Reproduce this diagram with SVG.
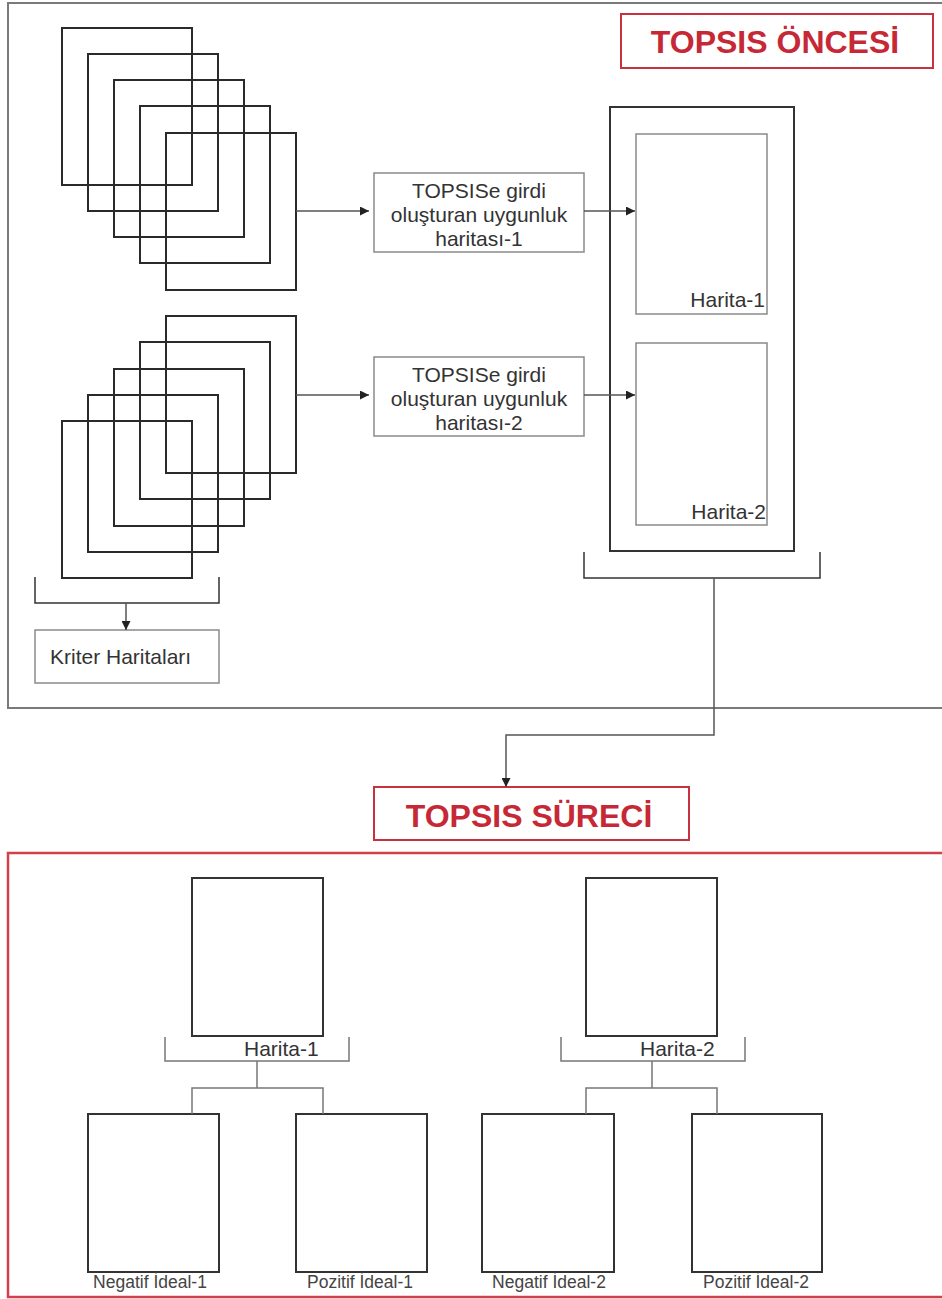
<svg xmlns="http://www.w3.org/2000/svg" width="942" height="1299" viewBox="0 0 942 1299">
<defs>
<marker id="ah" viewBox="0 0 10 10" refX="10" refY="5" markerWidth="9" markerHeight="9" markerUnits="userSpaceOnUse" orient="auto">
<path d="M0,0 L10,5 L0,10 z" fill="#222"/>
</marker>
<style>
.frame{fill:none;stroke:#7a7a7a;stroke-width:2}
.rframe{fill:none;stroke:#d2404e;stroke-width:2.5}
.sq{fill:none;stroke:#2a2a2a;stroke-width:2}
.box{fill:#fff;stroke:#8a8a8a;stroke-width:1.5}
.dbox{fill:#fff;stroke:#333;stroke-width:2}
.inner{fill:#fff;stroke:#8a8a8a;stroke-width:1.5}
.title{fill:#fff;stroke:#c8323e;stroke-width:2}
.ttxt{font-family:"Liberation Sans",Arial,sans-serif;font-weight:bold;font-size:32px;fill:#c62835;text-anchor:middle}
.txt{font-family:"Liberation Sans",Arial,sans-serif;font-size:21px;fill:#333}
.sm{font-family:"Liberation Sans",Arial,sans-serif;font-size:17.5px;fill:#444;text-anchor:middle}
.c{text-anchor:middle}
.ln{fill:none;stroke:#333;stroke-width:1.5}
.lnl{fill:none;stroke:#777;stroke-width:1.5}
.arr{fill:none;stroke:#555;stroke-width:1.5;marker-end:url(#ah)}
</style>
</defs>
<rect width="942" height="1299" fill="#fff"/>

<g id="frame-oncesi"><rect class="frame" x="8" y="3" width="945" height="705"/></g>
<g id="frame-sureci"><rect class="rframe" x="8" y="853" width="945" height="444"/></g>

<g id="title-oncesi">
<rect class="title" x="621" y="14" width="312" height="54"/>
<text class="ttxt" x="775" y="53">TOPSIS ÖNCESİ</text>
</g>

<g id="stack-1">
<rect class="sq" x="62" y="28" width="130" height="157"/>
<rect class="sq" x="88" y="54" width="130" height="157"/>
<rect class="sq" x="114" y="80" width="130" height="157"/>
<rect class="sq" x="140" y="106" width="130" height="157"/>
<rect class="sq" x="166" y="133" width="130" height="157"/>
</g>

<g id="stack-2">
<rect class="sq" x="166" y="316" width="130" height="157"/>
<rect class="sq" x="140" y="342" width="130" height="157"/>
<rect class="sq" x="114" y="369" width="130" height="157"/>
<rect class="sq" x="88" y="395" width="130" height="157"/>
<rect class="sq" x="62" y="421" width="130" height="157"/>
</g>

<g id="kriter">
<rect class="box" x="35" y="630" width="184" height="53"/>
<text class="txt" x="50" y="664">Kriter Haritaları</text>
</g>

<g id="uygunluk-1">
<rect class="box" x="374" y="173" width="210" height="79"/>
<text class="txt c" x="479" y="198">TOPSISe girdi</text>
<text class="txt c" x="479" y="222">oluşturan uygunluk</text>
<text class="txt c" x="479" y="246">haritası-1</text>
</g>

<g id="uygunluk-2">
<rect class="box" x="374" y="357" width="210" height="79"/>
<text class="txt c" x="479" y="382">TOPSISe girdi</text>
<text class="txt c" x="479" y="406">oluşturan uygunluk</text>
<text class="txt c" x="479" y="430">haritası-2</text>
</g>

<g id="harita-container">
<rect class="dbox" x="610" y="107" width="184" height="444"/>
<rect class="inner" x="636" y="134" width="131" height="180"/>
<text class="txt" x="765" y="307" text-anchor="end">Harita-1</text>
<rect class="inner" x="636" y="343" width="131" height="182"/>
<text class="txt" x="766" y="519" text-anchor="end">Harita-2</text>
</g>

<g id="title-sureci">
<rect class="title" x="374" y="787" width="315" height="53"/>
<text class="ttxt" x="529" y="827">TOPSIS SÜRECİ</text>
</g>

<g id="harita-1">
<rect class="dbox" x="192" y="878" width="131" height="158"/>
<text class="txt" x="244" y="1056">Harita-1</text>
</g>
<g id="harita-2">
<rect class="dbox" x="586" y="878" width="131" height="158"/>
<text class="txt" x="640" y="1056">Harita-2</text>
</g>

<g id="negatif-1">
<rect class="dbox" x="88" y="1114" width="131" height="158"/>
<text class="sm" x="150" y="1288">Negatif İdeal-1</text>
</g>
<g id="pozitif-1">
<rect class="dbox" x="296" y="1114" width="131" height="158"/>
<text class="sm" x="360" y="1288">Pozitif İdeal-1</text>
</g>
<g id="negatif-2">
<rect class="dbox" x="482" y="1114" width="132" height="158"/>
<text class="sm" x="549" y="1288">Negatif İdeal-2</text>
</g>
<g id="pozitif-2">
<rect class="dbox" x="692" y="1114" width="130" height="158"/>
<text class="sm" x="756" y="1288">Pozitif İdeal-2</text>
</g>

<g id="connectors">
<path class="arr" d="M296 211 H369"/>
<path class="arr" d="M296 395 H369"/>
<path class="arr" d="M584 211 H635"/>
<path class="arr" d="M584 395 H635"/>
<path class="ln" d="M35 577 V603 H219 V577"/>
<path class="arr" d="M126 603 V630"/>
<path class="ln" d="M584 552 V578 H820 V552"/>
<path class="arr" d="M714 578 V735 H506 V787"/>
<path class="lnl" d="M165 1037 V1061 H349 V1037"/>
<path class="lnl" d="M257 1061 V1088 M192 1114 V1088 H323 V1114"/>
<path class="lnl" d="M561 1037 V1061 H745 V1037"/>
<path class="lnl" d="M652 1061 V1088 M586 1114 V1088 H717 V1114"/>
</g>
</svg>
